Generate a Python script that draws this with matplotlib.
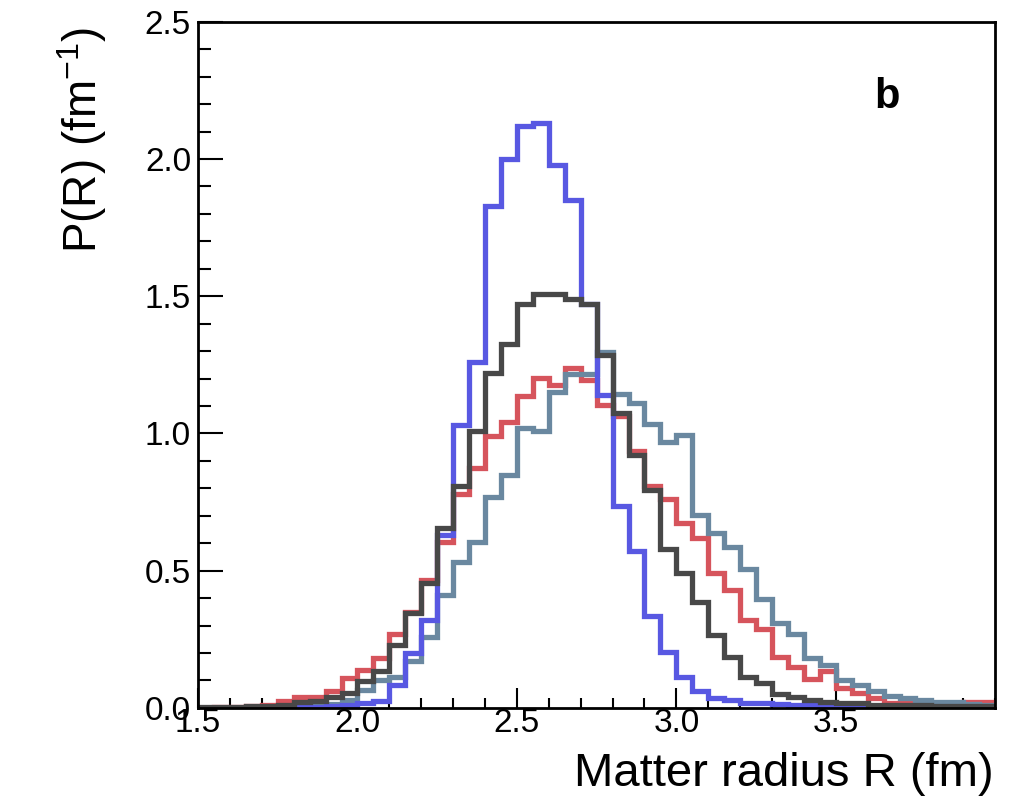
import numpy as np
import matplotlib.pyplot as plt
from matplotlib.ticker import MultipleLocator

plt.rcParams["font.family"] = ["Liberation Sans", "DejaVu Sans"]
plt.rcParams["mathtext.default"] = "regular"

# 50 bins of 0.05 fm from 1.5 to 4.0
edges = np.round(np.arange(1.5, 4.0001, 0.05), 3)

blue_vals = [0.0, 0.0, 0.0, 0.0, 0.001, 0.002, 0.003, 0.004, 0.006, 0.01,
             0.018, 0.026, 0.085, 0.20, 0.32, 0.63, 1.03, 1.26, 1.83, 2.00,
             2.12, 2.13, 1.98, 1.85, 1.47, 1.14, 0.735, 0.57, 0.335, 0.205,
             0.114, 0.06, 0.035, 0.03, 0.017, 0.017, 0.015, 0.01, 0.01, 0.008,
             0.005, 0.004, 0.003, 0.002, 0.001, 0.0, 0.0, 0.0, 0.0, 0.0]

black_vals = [0.002, 0.003, 0.004, 0.006, 0.008, 0.012, 0.02, 0.025, 0.04, 0.054,
              0.098, 0.135, 0.228, 0.345, 0.455, 0.656, 0.81, 1.01, 1.22, 1.325,
              1.47, 1.51, 1.51, 1.49, 1.47, 1.285, 1.075, 0.92, 0.795, 0.578,
              0.49, 0.385, 0.265, 0.185, 0.112, 0.09, 0.052, 0.04, 0.03, 0.023,
              0.017, 0.016, 0.012, 0.011, 0.01, 0.009, 0.008, 0.008, 0.007, 0.006]

red_vals = [0.001, 0.002, 0.004, 0.008, 0.012, 0.025, 0.04, 0.04, 0.063, 0.11,
            0.138, 0.18, 0.27, 0.35, 0.465, 0.605, 0.78, 0.875, 0.99, 1.04,
            1.136, 1.203, 1.175, 1.24, 1.195, 1.105, 1.065, 0.935, 0.81, 0.76,
            0.675, 0.62, 0.49, 0.43, 0.32, 0.287, 0.185, 0.15, 0.104, 0.133,
            0.072, 0.055, 0.035, 0.017, 0.016, 0.015, 0.015, 0.015, 0.022, 0.022]

steel_vals = [0.0, 0.0, 0.0, 0.0, 0.001, 0.002, 0.004, 0.008, 0.015, 0.03,
              0.065, 0.10, 0.112, 0.17, 0.26, 0.41, 0.53, 0.605, 0.77, 0.85,
              1.02, 1.01, 1.15, 1.215, 1.215, 1.297, 1.145, 1.11, 1.035, 0.97,
              0.996, 0.704, 0.637, 0.588, 0.505, 0.397, 0.31, 0.27, 0.183, 0.158,
              0.10, 0.084, 0.06, 0.044, 0.037, 0.029, 0.023, 0.02, 0.015, 0.01]

x_ticks = [1.5, 2.0, 2.5, 3.0, 3.5]
y_ticks = [0.0, 0.5, 1.0, 1.5, 2.0, 2.5]

fig = plt.figure(figsize=(10.26, 8.09), dpi=100)
ax = fig.add_axes([0.193, 0.125, 0.777, 0.848])

lw = 3.8
ax.stairs(red_vals, edges, color="#d6545c", lw=lw, zorder=2)
ax.stairs(steel_vals, edges, color="#6a88a0", lw=lw, zorder=3)
ax.stairs(blue_vals, edges, color="#5858e2", lw=lw, zorder=4)
ax.stairs(black_vals, edges, color="#484848", lw=lw, zorder=5)

ax.set_xlim(1.5, 4.0)
ax.set_ylim(0, 2.5)
ax.set_xticks(x_ticks)
ax.set_yticks(y_ticks)
ax.set_xticklabels(["%.1f" % v for v in x_ticks])
ax.set_yticklabels(["%.1f" % v for v in y_ticks])
ax.xaxis.set_minor_locator(MultipleLocator(0.1))
ax.yaxis.set_minor_locator(MultipleLocator(0.1))

ax.tick_params(axis="both", which="both", direction="in", top=False, right=False,
               width=1.5, labelsize=24)
ax.tick_params(axis="y", which="major", length=18, pad=5)
ax.tick_params(axis="y", which="minor", length=9.5)
ax.tick_params(axis="x", which="major", length=14.5, pad=0)
ax.tick_params(axis="x", which="minor", length=7.5)
for s in ax.spines.values():
    s.set_linewidth(2)
    s.set_zorder(6)

fig.text(0.968, 0.029, "Matter radius R (fm)", ha="right", va="baseline", fontsize=34)
fig.text(0.080, 0.966, r"P(R) (fm$^{\mathregular{-1}}$)", ha="center", va="top",
         rotation=90, fontsize=33)
fig.text(0.852, 0.880, "b", ha="left", va="center", fontsize=30, fontweight="bold")

fig.savefig("out.png", dpi=100)
